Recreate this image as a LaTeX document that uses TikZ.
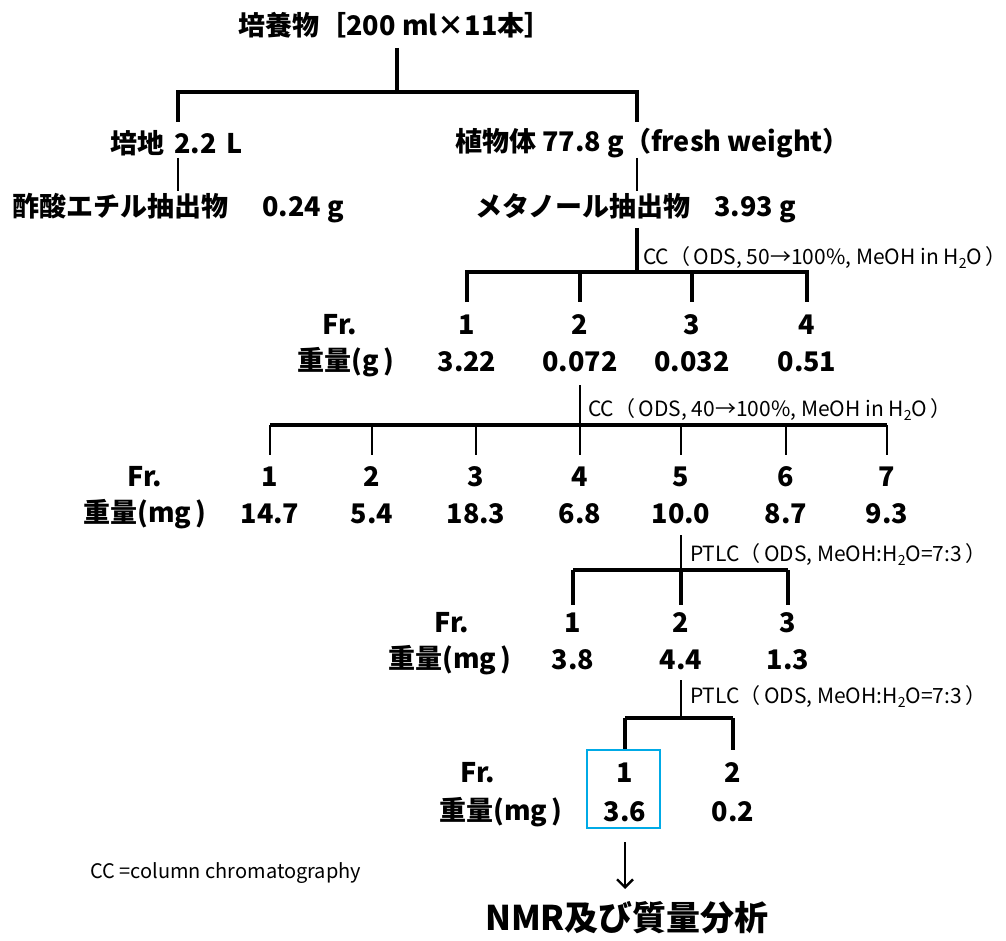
\documentclass[tikz,border=0pt]{standalone}
\usepackage{fontspec}
\usetikzlibrary{arrows.meta}
\setmainfont{Noto Sans CJK JP}
\newcommand{\hsub}[1]{\raisebox{-0.35ex}{\fontsize{14}{14}\selectfont #1}}
\begin{document}
\begin{tikzpicture}[x=1pt,y=-1pt,
  txt/.style={font=\bfseries\fontsize{27}{30}\selectfont, inner sep=0pt},
  lab/.style={font=\fontsize{21}{24}\selectfont, inner sep=0pt, anchor=west},
  ln/.style={line width=3.2pt},
  thin/.style={line width=2.4pt}]
\useasboundingbox (0,0) rectangle (1006,941);
% level 0
\node[txt] (t0) at (395,25) {培養物［200 ml×11本］};
\coordinate (t0b) at (397,48);
\coordinate (j0) at (397,92);
\coordinate (j0l) at (178,92);
\coordinate (j0r) at (637,92);
\coordinate (a1t) at (178,122);
\coordinate (b1t) at (637,122);
\draw[ln] (t0b) -- (j0);
\draw[ln] (a1t) -- (j0l) -- (j0r) -- (b1t);
% level 1
\node[txt,anchor=west] (a1) at (110,143) {培地\hspace{10pt}2.2\hspace{10pt}L};
\node[txt,anchor=west] (b1) at (455,143) {植物体 77.8 g（fresh weight）};
\coordinate (a1b) at (178,158);
\coordinate (a2t) at (178,191);
\coordinate (b1b) at (637,158);
\coordinate (b2t) at (637,191);
\draw[thin] (a1b) -- (a2t);
\draw[thin] (b1b) -- (b2t);
\node[txt,anchor=west] (a2) at (12,208) {酢酸エチル抽出物\hspace{34pt}0.24 g};
\node[txt,anchor=west] (b2) at (475,208) {メタノール抽出物\hspace{24pt}3.93 g};
% CC 1
\coordinate (b2b) at (637,228);
\coordinate (h1) at (637,272);
\draw[ln] (b2b) -- (h1);
\node[lab] (cc1) at (643,258) {CC（\,ODS, 50→100\%, MeOH in H\hsub{2}O\,）};
\foreach \x/\n in {467/1,580/2,692/3,807/4}{
  \coordinate (f1t\n) at (\x,302);
  \node[txt] (f1n\n) at (\x,325) {\n};
}
\draw[ln] (f1t1) -- (467,272) -- (807,272) -- (f1t4);
\draw[ln] (580,272) -- (f1t2);
\draw[ln] (692,272) -- (f1t3);
\node[txt] (fr1) at (340,325) {Fr.};
\node[txt] (w1) at (346,362) {重量(g\,)};
\node[txt] (w1a) at (467,362) {3.22};
\node[txt] (w1b) at (580,362) {0.072};
\node[txt] (w1c) at (692,362) {0.032};
\node[txt] (w1d) at (807,362) {0.51};
% CC 2
\coordinate (w1bb) at (580,385);
\coordinate (h2) at (580,425);
\draw[thin] (w1bb) -- (h2);
\node[lab] (cc2) at (588,410) {CC（\,ODS, 40→100\%, MeOH in H\hsub{2}O\,）};
\foreach \x/\n/\w in {270/1/14.7,372/2/5.4,476/3/18.3,580/4/6.8,681/5/10.0,786/6/8.7,887/7/9.3}{
  \coordinate (f2t\n) at (\x,455);
  \coordinate (f2h\n) at (\x,425);
  \node[txt] (f2n\n) at (\x,477) {\n};
  \node[txt] (f2w\n) at (\x,514) {\w};
  \draw[thin] (f2h\n) -- (f2t\n);
}
\draw[ln] (f2h1) -- (f2h7);
\node[txt] (fr2) at (145,477) {Fr.};
\node[txt] (w2) at (145,514) {重量(mg\,)};
% PTLC 1
\coordinate (w25b) at (681,535);
\coordinate (h3) at (681,570);
\draw[thin] (w25b) -- (h3);
\node[lab] (pt1) at (690,555) {PTLC（\,ODS, MeOH:H\hsub{2}O=7:3\,）};
\foreach \x/\n/\w in {573/1/3.8,681/2/4.4,788/3/1.3}{
  \coordinate (f3t\n) at (\x,605);
  \coordinate (f3h\n) at (\x,570);
  \node[txt] (f3n\n) at (\x,623) {\n};
  \node[txt] (f3w\n) at (\x,660) {\w};
  \draw[ln] (f3h\n) -- (f3t\n);
}
\draw[ln] (f3h1) -- (f3h3);
\node[txt] (fr3) at (452,623) {Fr.};
\node[txt] (w3) at (450,660) {重量(mg\,)};
% PTLC 2
\coordinate (w32b) at (681,680);
\coordinate (h4) at (681,718);
\draw[thin] (w32b) -- (h4);
\node[lab] (pt2) at (690,697) {PTLC（\,ODS, MeOH:H\hsub{2}O=7:3\,）};
\foreach \x/\n/\w in {625/1/3.6,733/2/0.2}{
  \coordinate (f4t\n) at (\x,750);
  \coordinate (f4h\n) at (\x,718);
  \node[txt] (f4n\n) at (\x,773) {\n};
  \node[txt] (f4w\n) at (\x,812) {\w};
  \draw[ln] (f4h\n) -- (f4t\n);
}
\draw[ln] (f4h1) -- (f4h2);
\node[txt] (fr4) at (478,773) {Fr.};
\node[txt] (w4) at (501,812) {重量(mg\,)};
\definecolor{boxblue}{RGB}{0,170,230}
\node[draw=boxblue, line width=2.6pt, minimum width=73pt, minimum height=78pt, inner sep=0pt] (sel) at (623.5,789) {};
\node[txt, font=\bfseries\fontsize{34}{36}\selectfont] (nmr) at (627,918) {NMR及び質量分析};
\coordinate (arr) at (625,889);
\draw[thin,-{Straight Barb[length=8pt,width=16pt]}] (625,842) -- (arr);
\node[font=\fontsize{20}{22}\selectfont, inner sep=0pt, anchor=west] (note) at (90,873) {CC =column chromatography};
\end{tikzpicture}
\end{document}
